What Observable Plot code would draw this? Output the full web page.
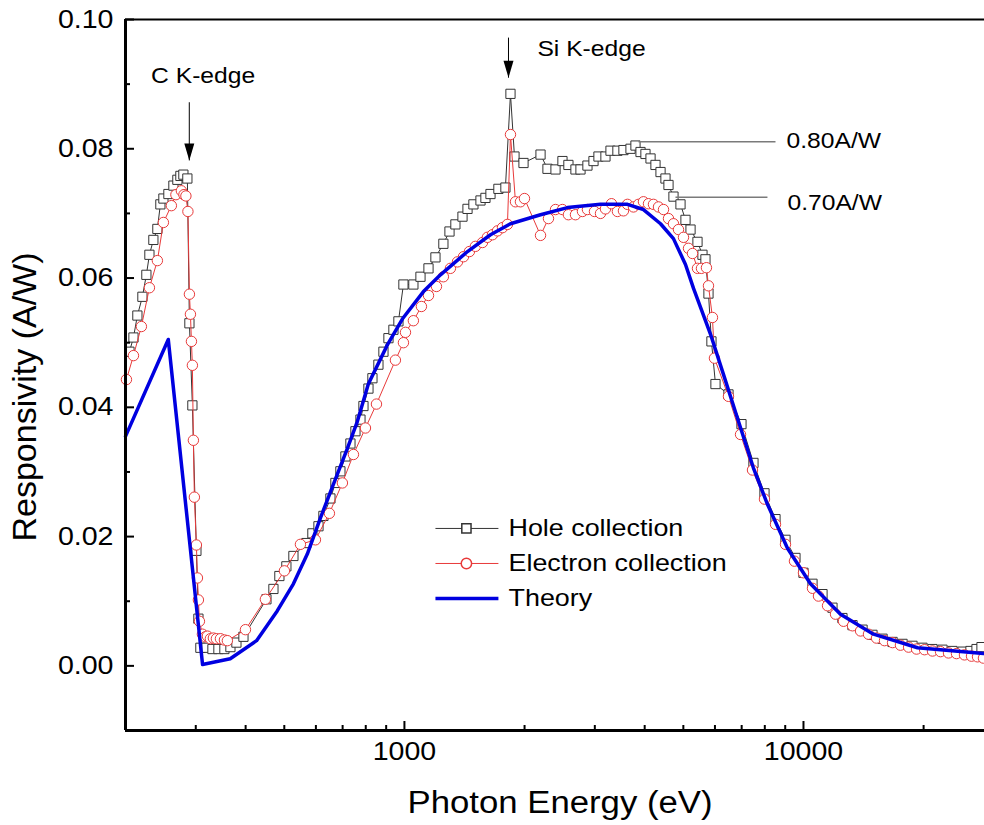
<!DOCTYPE html>
<html>
<head>
<meta charset="utf-8">
<script src="https://cdn.jsdelivr.net/npm/d3@7"></script>
<script src="https://cdn.jsdelivr.net/npm/@observablehq/plot@0.6"></script>
<style>
  html, body { margin: 0; padding: 0; background: #fff; }
  #chart svg { display: block; }
</style>
</head>
<body>
<div id="chart"></div>
<script>
// ---------------- data ----------------
const holeEnergy = [204.6, 209.4, 214.2, 220.5, 225.6, 229.6, 234.9, 240.4, 244.6, 248.9, 256.2, 263.7, 269.8, 274.5, 279.3, 285.8,
  289.2, 294.2, 301.1, 304.6, 308.1, 319, 330.3, 341.9, 353.9, 366.4, 379.3, 395, 451, 469.6, 486, 506, 527,
  568, 588, 609, 626.6, 652.4, 671.5, 691.1, 711.4, 732.3, 753.8, 775.9, 789.4, 812.5, 831.4, 860.6, 886, 912, 938.5, 966,
  994.3, 1053, 1097, 1149, 1196, 1252, 1297, 1342, 1398, 1439, 1489, 1551, 1596, 1643, 1720, 1791,
  1844, 1887, 1988, 2193, 2283, 2391, 2489, 2576, 2683, 2762, 2875, 2977, 3064, 3190, 3284, 3418, 3539, 3686,
  3793, 3905, 4018, 4137, 4257, 4383, 4510, 4589, 4723, 4918, 5062, 5211, 5425, 5583, 5680, 5780, 5880, 6018,
  6487, 6992, 7493, 7985, 8509, 9014, 9548, 10000, 10534, 11160, 11820, 12520, 13270, 14060, 14890, 15780, 16720,
  17710, 18760, 19870, 21050, 22300, 23630, 25030, 26210, 27140, 27930];
const holeResp = [0.0486, 0.0508, 0.0542, 0.0571, 0.0605, 0.0636, 0.0659, 0.0676, 0.0714, 0.0723, 0.0730, 0.0743, 0.0752, 0.0758, 0.0760, 0.0754,
  0.0530, 0.0403, 0.0178, 0.0073, 0.0028, 0.0028, 0.0026, 0.0026, 0.0026, 0.0029, 0.0036, 0.0045, 0.0103, 0.0119, 0.0139, 0.0154, 0.0170,
  0.0190, 0.0205, 0.0216, 0.0232, 0.0259, 0.0283, 0.0301, 0.0324, 0.0344, 0.0363, 0.0381, 0.0402, 0.0429, 0.0445, 0.0466, 0.0486, 0.0507, 0.0520, 0.0533,
  0.0590, 0.0590, 0.0602, 0.0615, 0.0632, 0.0653, 0.0672, 0.0683, 0.0695, 0.0707, 0.0714, 0.0720, 0.0724, 0.0730, 0.0738, 0.0740,
  0.0885, 0.0788, 0.0778, 0.0791, 0.0769, 0.0768, 0.0781, 0.0775, 0.0768, 0.0768, 0.0774, 0.0781, 0.0788, 0.0788, 0.0797, 0.0797, 0.0798, 0.0800,
  0.0805, 0.0795, 0.0792, 0.0785, 0.0775, 0.0764, 0.0754, 0.0744, 0.0726, 0.0714, 0.0690, 0.0675, 0.0656, 0.0636, 0.0629, 0.0576, 0.0502, 0.0436,
  0.0420, 0.0374, 0.0314, 0.0267, 0.0227, 0.0195, 0.0167, 0.0144, 0.0127, 0.0111, 0.0090, 0.0074, 0.0063, 0.0056, 0.0048, 0.0042, 0.0037,
  0.0034, 0.0031, 0.0028, 0.0026, 0.0025, 0.0023, 0.0022, 0.0023, 0.0026, 0.0029];

const elecEnergy = [201.1, 209.4, 219.2, 229.6, 240.4, 248.9, 260.6, 267.5, 276.1, 280.2,
  283.4, 286.7, 289.2, 290.9, 292.6, 294.2, 295.9, 297.6, 301.1, 302.9,
  304.6, 306.4, 311.7, 317.1, 320.8, 326.4, 332.1, 337.9, 345.9, 353.9,
  360, 399.6, 448.3, 500.3, 548.8, 598.4, 648.6, 699.1, 745.1, 798.6,
  851, 949.3, 994.3, 1006, 1053, 1103, 1149, 1203, 1252, 1304,
  1358, 1406, 1455, 1506, 1569, 1614, 1662, 1711, 1761, 1812,
  1844, 1898, 1953, 1999, 2193, 2296, 2391, 2489, 2576, 2683,
  2794, 2875, 2994, 3100, 3190, 3303, 3418, 3539, 3622, 3749,
  3859, 3972, 4089, 4208, 4332, 4459, 4589, 4723, 4862, 5004,
  5151, 5271, 5425, 5551, 5713, 5780, 5914, 5983, 6487, 6954,
  7451, 7985, 8509, 9014, 9493, 10000, 10534, 10904, 11489, 12030,
  12600, 13270, 13900, 14550, 15240, 15960, 16720, 17500, 18340, 19200,
  20110, 21050, 22050, 23090, 24180, 25320, 26370, 27300, 28250];
const elecResp = [0.0443, 0.0480, 0.0525, 0.0585, 0.0627, 0.0686, 0.0712, 0.0729, 0.0735, 0.0729,
  0.0727, 0.0703, 0.0575, 0.0544, 0.0502, 0.0465, 0.0349, 0.0261, 0.0187, 0.0136,
  0.0102, 0.0069, 0.0049, 0.0045, 0.0046, 0.0042, 0.0043, 0.0042, 0.0042, 0.0040,
  0.0039, 0.0056, 0.0103, 0.0147, 0.0188, 0.0195, 0.0236, 0.0283, 0.0327, 0.0368,
  0.0405, 0.0473, 0.0500, 0.0516, 0.0534, 0.0556, 0.0573, 0.0587, 0.0602, 0.0615,
  0.0625, 0.0633, 0.0641, 0.0649, 0.0655, 0.0663, 0.0667, 0.0673, 0.0678, 0.0683,
  0.0822, 0.0718, 0.0718, 0.0723, 0.0666, 0.0692, 0.0706, 0.0706, 0.0698, 0.0698,
  0.0703, 0.0706, 0.0703, 0.0700, 0.0707, 0.0715, 0.0703, 0.0704, 0.0714, 0.0710,
  0.0714, 0.0718, 0.0715, 0.0714, 0.0710, 0.0706, 0.0692, 0.0684, 0.0675, 0.0663,
  0.0646, 0.0638, 0.0615, 0.0615, 0.0616, 0.0588, 0.0539, 0.0476, 0.0417, 0.0358,
  0.0303, 0.0258, 0.0219, 0.0188, 0.0162, 0.0144, 0.0120, 0.0108, 0.0093, 0.0080,
  0.0069, 0.0062, 0.0054, 0.0049, 0.0043, 0.0039, 0.0036, 0.0032, 0.0029, 0.0026,
  0.0025, 0.0023, 0.0022, 0.0020, 0.0019, 0.0017, 0.0015, 0.0014, 0.0012];

const theoryEnergy = [200, 256, 312, 366, 426, 480, 527, 571, 616, 664, 720, 762, 812, 907, 989, 1116, 1231, 1439, 1643, 1844,
  2193, 2562, 3100, 3623, 3972, 4383, 4722, 5062, 5302, 5849, 6302, 6833, 7493, 8123, 9118, 10412, 12380, 14980, 19310, 28250];
const theoryResp = [0.0355, 0.0505, 0.0002, 0.0011, 0.0039, 0.0085, 0.0127, 0.0173, 0.0229, 0.0281, 0.0337, 0.0378, 0.0436, 0.0497, 0.0537, 0.0579, 0.0605, 0.0641, 0.0667, 0.0684,
  0.0698, 0.0709, 0.0714, 0.0714, 0.0706, 0.0684, 0.0661, 0.0621, 0.0584, 0.0513, 0.0451, 0.0383, 0.0306, 0.0250, 0.0182, 0.0127, 0.0080, 0.0049, 0.0028, 0.0019];

const seriesNames = ["Hole collection", "Electron collection", "Theory"];
const yMajorTicks = [0, 0.02, 0.04, 0.06, 0.08, 0.10];
const yMinorTicks = [0.01, 0.03, 0.05, 0.07, 0.09];
const xMajorTicks = [1000, 10000];
const xMinorTicks = [300, 400, 500, 600, 700, 800, 900, 2000, 3000, 4000, 5000, 6000, 7000, 8000, 9000, 20000];
const edgeLabels = ["C K-edge", "Si K-edge"];
const edgeEnergy = [289, 1823];
const levelLabels = ["0.80A/W", "0.70A/W"];
const xLabel = "Photon Energy (eV)";
const yLabel = "Responsivity (A/W)";

// ---------------- tables ----------------
const zip = (E, R) => E.slice(0, Math.min(E.length, R.length)).map((e, i) => ({e, r: R[i]}));
const hole = zip(holeEnergy, holeResp);
const elec = zip(elecEnergy, elecResp);
const theory = zip(theoryEnergy, theoryResp);

// ---------------- layout (annotation placement, in data units) ----------------
const X_DOMAIN = [200, 28420];
const Y_DOMAIN = [-0.01, 0.10];
const edgeArrows = [
  {x: edgeEnergy[0], yTop: 0.0872, yTip: 0.0782, label: edgeLabels[0], tx: 313, ty: 0.0912, anchor: "middle"},
  {x: edgeEnergy[1], yTop: 0.0972, yTip: 0.0910, label: edgeLabels[1], tx: 2154, ty: 0.0955, anchor: "start"}
];
const levelLines = [
  {x1: 3859, x2: 8509, y: 0.0811, label: levelLabels[0], tx: 9066, ty: 0.0812},
  {x1: 4778, x2: 8123, y: 0.0725, label: levelLabels[1], tx: 9118, ty: 0.0716}
];
const legendRows = [
  {name: seriesNames[0], y: 0.02126, stroke: "#333333", sw: 1, symbol: "square"},
  {name: seriesNames[1], y: 0.01584, stroke: "#e83a3a", sw: 1, symbol: "circle"},
  {name: seriesNames[2], y: 0.01043, stroke: "#0000e0", sw: 3.5, symbol: null}
];
const LEG = {x1: 1196, x2: 1720, xm: 1430, xt: 1823};

const downTriangle = {
  draw(ctx) { ctx.moveTo(-5, -17); ctx.lineTo(5, -17); ctx.lineTo(0, 0); ctx.closePath(); }
};

const FONT = "'Liberation Sans', Arial, Helvetica, sans-serif";
const HOLE_C = "#333333", ELEC_C = "#e83a3a", THEO_C = "#0000e0";
const MR = 5.2;

const chart = Plot.plot({
  width: 984,
  height: 825,
  marginLeft: 125,
  marginRight: 0,
  marginTop: 19,
  marginBottom: 95,
  style: {fontFamily: FONT, background: "#ffffff", color: "#000", overflow: "visible"},
  x: {type: "log", domain: X_DOMAIN},
  y: {domain: Y_DOMAIN},
  marks: [
    // data series
    Plot.line(hole, {x: "e", y: "r", stroke: HOLE_C, strokeWidth: 1}),
    Plot.dot(hole, {x: "e", y: "r", symbol: "square", r: MR, stroke: HOLE_C, strokeWidth: 1, fill: "white"}),
    Plot.line(elec, {x: "e", y: "r", stroke: ELEC_C, strokeWidth: 1}),
    Plot.dot(elec, {x: "e", y: "r", symbol: "circle", r: MR, stroke: ELEC_C, strokeWidth: 1, fill: "white"}),
    Plot.line(theory, {x: "e", y: "r", stroke: THEO_C, strokeWidth: 3.5, strokeLinejoin: "round"}),

    // frame lines
    Plot.ruleY([Y_DOMAIN[1]], {stroke: "#000", strokeWidth: 2}),
    Plot.ruleX([X_DOMAIN[0]], {stroke: "#000", strokeWidth: 3}),
    Plot.ruleY([Y_DOMAIN[0]], {stroke: "#000", strokeWidth: 3}),

    // axes with inward ticks
    Plot.axisY({ticks: yMajorTicks, tickSize: -9, tickPadding: 21, strokeWidth: 2, fontSize: 25.5,
      tickFormat: d3.format(".2f"), label: null}),
    Plot.axisY({ticks: yMinorTicks, tickSize: -5, strokeWidth: 2, tickFormat: () => "", label: null}),
    Plot.axisX({ticks: xMajorTicks, tickSize: -9, tickPadding: 20, strokeWidth: 2, fontSize: 25.5,
      tickFormat: d => String(d), label: null}),
    Plot.axisX({ticks: xMinorTicks, tickSize: -5, strokeWidth: 2, tickFormat: () => "", label: null}),

    // axis titles
    Plot.text([xLabel], {frameAnchor: "bottom", text: d => d, dx: 5, dy: 73, lineAnchor: "middle",
      fontSize: 31, fill: "#000"}),
    Plot.text([yLabel], {frameAnchor: "left", text: d => d, dx: -100, dy: 22, rotate: -90,
      lineAnchor: "middle", textAnchor: "middle", fontSize: 34, fill: "#000"}),

    // K-edge arrows
    Plot.link(edgeArrows, {x1: "x", x2: "x", y1: "yTop", y2: "yTip", stroke: "#000", strokeWidth: 1}),
    Plot.dot(edgeArrows, {x: "x", y: "yTip", symbol: downTriangle, fill: "#000", stroke: "none"}),
    Plot.text(edgeArrows, {x: "tx", y: "ty", text: "label", textAnchor: "middle", lineAnchor: "middle",
      fontSize: 22, fill: "#000", filter: d => d.anchor === "middle"}),
    Plot.text(edgeArrows, {x: "tx", y: "ty", text: "label", textAnchor: "start", lineAnchor: "middle",
      fontSize: 22, fill: "#000", filter: d => d.anchor === "start"}),

    // responsivity level markers
    Plot.link(levelLines, {x1: "x1", x2: "x2", y1: "y", y2: "y", stroke: "#7a7a7a", strokeWidth: 1.5}),
    Plot.text(levelLines, {x: "tx", y: "ty", text: "label", textAnchor: "start", lineAnchor: "middle",
      fontSize: 22, fill: "#000"}),

    // legend
    Plot.link(legendRows, {x1: () => LEG.x1, x2: () => LEG.x2, y1: "y", y2: "y", stroke: "stroke", strokeWidth: "sw"}),
    Plot.dot(legendRows.filter(d => d.symbol === "square"), {x: () => LEG.xm, y: "y", symbol: "square", r: MR,
      stroke: HOLE_C, fill: "white"}),
    Plot.dot(legendRows.filter(d => d.symbol === "circle"), {x: () => LEG.xm, y: "y", symbol: "circle", r: MR,
      stroke: ELEC_C, fill: "white"}),
    Plot.text(legendRows, {x: () => LEG.xt, y: "y", text: "name", textAnchor: "start", lineAnchor: "middle",
      fontSize: 24, fill: "#000"})
  ]
});

document.getElementById("chart").append(chart);

// The reference's lettering is horizontally widened; widen horizontal text a little.
const STRETCH = 1.12;
chart.querySelectorAll("text").forEach(t => {
  const txt = t.textContent;
  if (!txt || txt === yLabel) return;
  const L = t.getComputedTextLength();
  if (L > 0) {
    t.setAttribute("textLength", (L * STRETCH).toFixed(1));
    t.setAttribute("lengthAdjust", "spacingAndGlyphs");
  }
});
</script>
</body>
</html>
